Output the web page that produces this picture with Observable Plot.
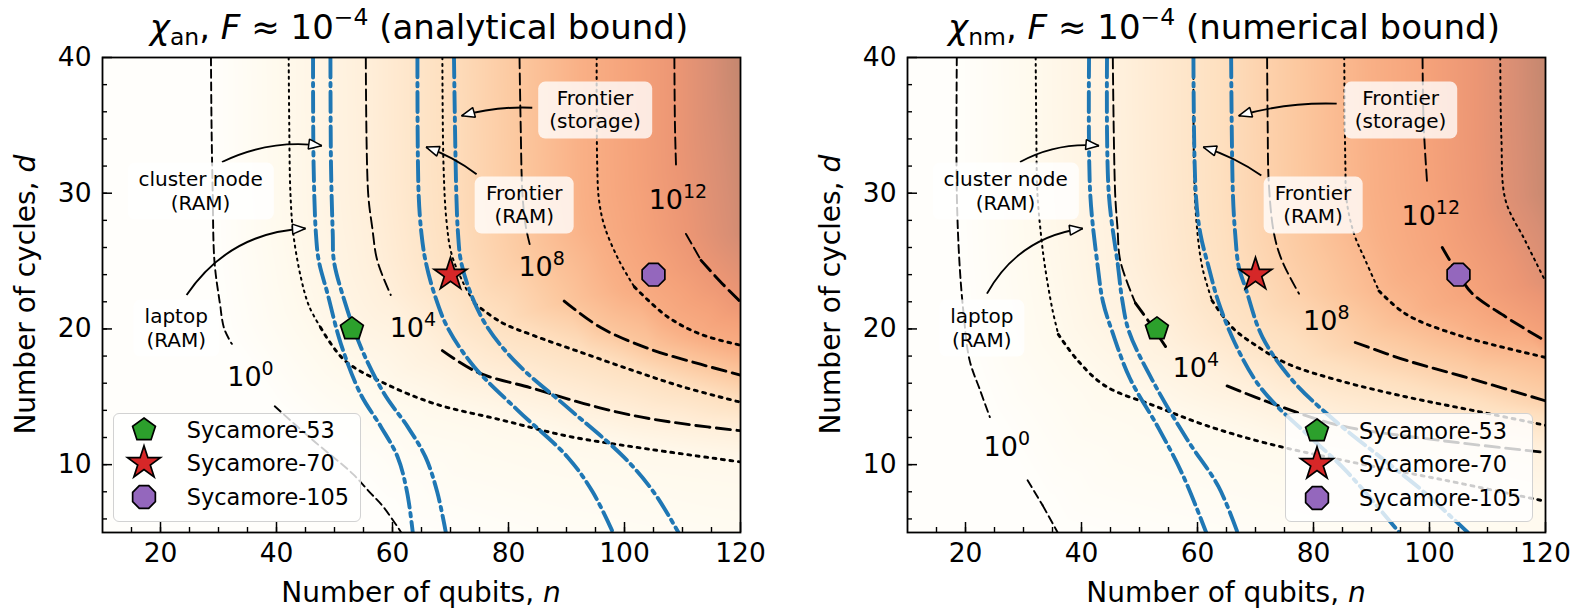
<!DOCTYPE html>
<html>
<head>
<meta charset="utf-8">
<script src="https://cdn.jsdelivr.net/npm/d3@7"></script>
<script src="https://cdn.jsdelivr.net/npm/@observablehq/plot@0.6"></script>
<style>
html, body { margin: 0; padding: 0; background: #fff; }
#root { position: relative; width: 1578px; height: 613px; overflow: hidden; font-family: "DejaVu Sans", sans-serif; color: #000; }
.panel { position: absolute; top: 0; }
.note { position: absolute; transform: translate(-50%, -50%); background: rgba(255,255,255,0.78); border-radius: 7px;
        padding: 5px 11px; font-size: 20px; line-height: 1.17; text-align: center; white-space: nowrap; }
.legend { position: absolute; box-sizing: border-box; width: 248px; height: 109px; border: 1.5px solid #d2d2d2;
          border-radius: 6px; background: rgba(255,255,255,0.8); }
.legend svg { position: absolute; overflow: visible; }
.legend .lab { position: absolute; font-size: 22.4px; line-height: 30px; white-space: nowrap; }
#overlay { position: absolute; left: 0; top: 0; pointer-events: none; }
</style>
</head>
<body>
<div id="root"></div>
<script>
// ---------------- data ----------------
const xTicks = [20, 40, 60, 80, 100, 120];
const xMinor = [15, 20, 25, 30, 35, 40, 45, 50, 55, 60, 65, 70, 75, 80, 85, 90, 95, 100, 105, 110, 115];
const yTicks = [10, 20, 30, 40];
const yMinor = [6, 8, 10, 12, 14, 16, 18, 20, 22, 24, 26, 28, 30, 32, 34, 36, 38];

const deviceNames = ["Sycamore-53", "Sycamore-70", "Sycamore-105"];
const deviceQubits = [53, 70, 105];
const deviceCycles = [20, 24, 24];

// analytical bound: contour lines of chi (points [n, d]; null = label gap)
const anC0 = [[28.7,40],[28.8,35],[29,30],[29.3,25],[30.2,22],[31,20],[32.3,18.9],null,[39.7,14.3],[46,11.9],[53.2,9.3],[56,8],[58.4,6.9],[61.5,5]];
const anC2 = [[42.1,40],[42.2,35],[42.4,30],[42.9,27],[44.2,23.8],[45.6,21.7],[47.6,20.1],[51.7,17.7],[58.6,16],[67.2,14.5],[78.7,13.3],[90.2,12.1],[101.7,11.3],[120,10.2]];
const anC4 = [[55.4,40],[55.8,30],[56.5,27.5],[57.4,25],[59.7,22.5],null,[68.6,18.4],[74.7,16.8],[84.4,15.6],[93,14.5],[101.7,13.6],[110.3,13],[120,12.5]];
const anC6 = [[68.6,40],[68.8,32],[69.3,28],[70.2,25.5],[72.3,23.3],[74.1,21.9],[78.7,20.5],[84.4,19.5],[93,18.2],[101.7,16.9],[110.3,15.7],[120,14.6]];
const anC8 = [[81.9,40],[82.1,35],[82.4,30],[83,27.5],[83.8,26],null,[89.6,22.05],[95.9,20.1],[104.5,18.5],[113.1,17.4],[120,16.6]];
const anC10 = [[95.2,40],[95.3,32],[95.6,29.5],[96.6,27.5],[99.1,25],[101.7,23.1],[107.4,20.9],[113.2,19.6],[120,18.8]];
const anC12 = [[108.6,40],[108.7,35],[108.9,31.8],null,[110.6,27],[113.2,25.05],[116.5,23.5],[120,22]];
const anCorners = [[120,40,13.7],[120,27,13.2],[10,40,-2.8],[10,25,-2.9],[10,15,-4],[10,5,-8],[20,5,-5.5],[40,5,-2],[90,5,0.7],[120,5,1.2]];
// memory limits (blue): laptop, cluster node, Frontier RAM, Frontier storage
const anB1 = [[46.3,40],[46.4,32],[46.8,27],[47.3,25],[48.8,22.6],[51.1,18.9],[54.5,15.2],[58,12.8],[60.9,10.55],[62.5,8],[63.5,5]];
const anB2 = [[49.3,40],[49.4,32],[49.7,27],[49.9,25],[51.7,22.1],[54.5,18.7],[58.6,15.2],[62.6,12.8],[65.7,10.55],[67.7,8],[69.2,5]];
const anB3 = [[64.3,40],[64.5,30],[65,27],[65.7,25],[67.2,22.6],[69.5,20.1],[74.1,17.2],[81.6,14],[90.2,10.55],[94.5,8],[98,5]];
const anB4 = [[70.6,40],[71,30],[71.3,27],[71.8,25],[73.5,22.6],[76.4,20.1],[81.6,17.4],[90.2,14.2],[99.9,10.55],[105,8],[109.3,5]];
const anLabelExp = ["0", "4", "8", "12"];
const anLabelN = [35.6, 63.6, 85.8, 109.3];
const anLabelD = [16.6, 20.2, 24.7, 29.6];
const anNoteText = [["cluster node", "(RAM)"], ["laptop", "(RAM)"], ["Frontier", "(RAM)"], ["Frontier", "(storage)"]];
const anNoteN = [27, 22.8, 82.8, 95];
const anNoteD = [30.1, 20, 29.1, 36.1];
const anArrowFrom = [[30.6,32.3],[24.5,22.5],[74.5,31.4],[84.1,36.3]];
const anArrowTo = [[47.8,33.5],[45,27.4],[65.8,33.4],[71.9,35.7]];

// numerical bound
const nmC0 = [[18.5,40],[18.5,30],[19,24.6],[19.7,21],[20.7,17.7],[22.5,15.5],[24.2,13.5],null,[30.7,8.85],[33.3,7],[35.9,5]];
const nmC2 = [[32.1,40],[32.2,35],[32.4,30],[33,27],[33.7,24.6],[35,21.4],[36,19.6],[39.3,17.7],[44.1,15.8],[52.8,14.3],[61.4,12.9],[71.7,11.6],[85.3,10.3],[102.7,8.85],[120,7.3]];
const nmC4 = [[45.4,40],[45.8,30],[46.2,27.5],[46.7,25],[49.3,21.9],[51.5,20.6],[54.5,18.7],null,[65.1,15.8],[72.9,14.5],[84.4,12.9],[101.6,11.8],[120,10.9]];
const nmC6 = [[59.3,40],[59.4,32],[59.8,28],[60.8,24.6],[62.5,22.1],[66,20.1],[70,18.8],[75.7,17.4],[84.4,16.2],[95.9,15],[107.4,14],[120,12.9]];
const nmC8 = [[72,40],[72.1,35],[72.3,30.7],[73.2,27],[74.6,25],[77.5,22.6],null,[87.2,19],[95.9,17.7],[107.4,16.3],[120,14.7]];
const nmC10 = [[85.3,40],[85.5,32],[85.7,29.5],[87,27],[89,25],[91.3,22.8],[95.9,21.1],[104.5,19.6],[120,17.9]];
const nmC12 = [[98.8,40],[99,35],[99.6,30.7],null,[102.2,26],[105,24],[107.4,22.6],[113.1,20.9],[120,19.1]];
const nmC14 = [[112.2,40],[112.4,34],[113.1,29.5],[116.5,26.5],[120,23.5]];
const nmCorners = [[120,40,15.2],[120,30,15],[10,40,-1.3],[10,25,-1.5],[10,15,-2.5],[10,5,-6],[20,5,-3],[80,5,0.9],[120,5,1.6]];
const nmB1 = [[41.3,40],[41.5,30],[42.8,24.6],[43.7,22],[45.3,19.8],[48.3,16.4],[53.4,12.6],[57.5,9.2],[61.5,5]];
const nmB2 = [[44.4,40],[44.7,30],[46.3,24.6],[47,22.2],[48.2,19.8],[52.5,16],[58.3,11.8],[63.6,8.4],[66.9,5]];
const nmB3 = [[59.3,40],[59.7,30],[60.5,27],[61.9,24.6],[63.6,22],[66.4,19],[70,16.2],[73.5,14.4],[79.5,12],[85.5,9.6],[94.8,5]];
const nmB4 = [[65.8,40],[66.1,30],[66.5,27],[67.1,24.6],[68.3,23],[71.2,19.4],[76.4,16.2],[83.8,13.2],[92,10.4],[99,8],[106.6,5]];
const nmLabelExp = ["0", "4", "8", "12"];
const nmLabelN = [27.2, 59.8, 82.3, 100.3];
const nmLabelD = [11.4, 17.2, 20.7, 28.4];
const nmNoteText = [["cluster node", "(RAM)"], ["laptop", "(RAM)"], ["Frontier", "(RAM)"], ["Frontier", "(storage)"]];
const nmNoteN = [27, 22.9, 80, 95.1];
const nmNoteD = [30.1, 20, 29.1, 36.1];
const nmArrowFrom = [[29.4,32.3],[23.7,22.6],[71,31.3],[84,36.6]];
const nmArrowTo = [[43,33.5],[40.2,27.4],[61,33.4],[67.1,35.7]];

// ---------------- styles ----------------
const W = 790, H = 613, MT = 57, MB = 81;
const plotW = 638, plotH = H - MT - MB;
const pxPerN = plotW / 110, pxPerD = plotH / 35;
const arrowBend = [0.15, 0.25, -0.08, -0.08];
const lineStyles = {
  thinDash: {thin: {stroke: "#000", strokeWidth: 1.9, strokeDasharray: "8,4.5"}, bold: {stroke: "#000", strokeWidth: 1.9, strokeDasharray: "8,4.5"}},
  dash: {thin: {stroke: "#000", strokeWidth: 1.9, strokeDasharray: "11,5"}, bold: {stroke: "#000", strokeWidth: 2.9, strokeDasharray: "14,6.5"}},
  dot: {thin: {stroke: "#000", strokeWidth: 2.0, strokeDasharray: "2,4.5"}, bold: {stroke: "#000", strokeWidth: 2.9, strokeDasharray: "2.9,5.6"}}
};
const blueStyle = {stroke: "#1f77b4", strokeWidth: 3.9, strokeDasharray: "20,5.5,3.5,5.5"};
const bgStops = [0, 0.12, 0.28, 0.44, 0.58, 0.70, 0.80, 0.88, 0.95, 1];
const bgColors = ["#fffefb", "#fffaee", "#fff0dc", "#fee0c0", "#fcc89f", "#f9b086", "#f5a27a", "#ec9674", "#d88e74", "#c4876f"];
const deviceFill = ["#2ca02c", "#d62728", "#9467bd"];
const deviceR = [12, 17.3, 12.3];

// marker shapes
function polygonSymbol(k, rot) {
  return {draw(ctx, size) {
    const R = Math.sqrt(size / Math.PI);
    for (let i = 0; i < k; i++) {
      const a = rot + 2 * Math.PI * i / k, x = R * Math.sin(a), y = -R * Math.cos(a);
      i ? ctx.lineTo(x, y) : ctx.moveTo(x, y);
    }
    ctx.closePath();
  }};
}
const starSymbol = {draw(ctx, size) {
  const R = Math.sqrt(size / Math.PI), r0 = R * 0.382;
  for (let i = 0; i < 10; i++) {
    const a = Math.PI * i / 5, rr = i % 2 ? r0 : R, x = rr * Math.sin(a), y = -rr * Math.cos(a);
    i ? ctx.lineTo(x, y) : ctx.moveTo(x, y);
  }
  ctx.closePath();
}};
const deviceSymbols = [polygonSymbol(5, 0), starSymbol, polygonSymbol(8, Math.PI / 8)];

function arcCurve(rad) {
  return function(context) {
    let pts = [];
    return {
      areaStart() {}, areaEnd() {},
      lineStart() { pts = []; },
      point(x, y) { pts.push([+x, +y]); },
      lineEnd() {
        if (pts.length < 2) return;
        const [x0, y0] = pts[0], [x1, y1] = pts[pts.length - 1];
        const dx = x1 - x0, dy = y1 - y0;
        context.moveTo(x0, y0);
        context.quadraticCurveTo((x0 + x1) / 2 + rad * dy, (y0 + y1) / 2 - rad * dx, x1, y1);
      }
    };
  };
}
function headMarker(color, context) {
  const doc = (context && context.document) || document;
  const ns = "http://www.w3.org/2000/svg";
  const m = doc.createElementNS(ns, "marker");
  m.setAttribute("viewBox", "-16 -8 18 16");
  m.setAttribute("markerWidth", 18);
  m.setAttribute("markerHeight", 16);
  m.setAttribute("markerUnits", "userSpaceOnUse");
  m.setAttribute("orient", "auto");
  m.setAttribute("refX", 0);
  m.setAttribute("refY", 0);
  m.setAttribute("overflow", "visible");
  const p = doc.createElementNS(ns, "path");
  p.setAttribute("d", "M0,0L-13,-5L-13,5Z");
  p.setAttribute("fill", "white");
  p.setAttribute("stroke", "black");
  p.setAttribute("stroke-width", "1.5");
  m.appendChild(p);
  return m;
}

const rows = (pts) => pts.map((p) => p ? {n: p[0], d: p[1]} : {n: NaN, d: NaN});
// split a polyline into steep (thin-looking) and shallow (bold-looking) runs
function runs(pts) {
  const out = [];
  let cur = null;
  for (let i = 0; i + 1 < pts.length; i++) {
    const a = pts[i], b = pts[i + 1];
    if (!a || !b) { cur = null; continue; }
    const steep = Math.abs((b[1] - a[1]) * pxPerD) > 1.7 * Math.abs((b[0] - a[0]) * pxPerN);
    if (!cur || cur.steep !== steep) { cur = {steep, pts: [a]}; out.push(cur); }
    cur.pts.push(b);
  }
  return out;
}

function buildPanel(cfg) {
  const samples = [];
  for (const c of cfg.contours) for (const p of c.pts) if (p) samples.push({n: p[0], d: p[1], v: c.level});
  for (const e of cfg.corners) samples.push({n: e[0], d: e[1], v: e[2]});
  const vmax = d3.max(cfg.corners, (e) => e[2]);
  const devices = deviceNames.map((name, i) => ({name, n: deviceQubits[i], d: deviceCycles[i]}));
  const contourMarks = [];
  for (const c of cfg.contours) {
    for (const r of runs(c.pts)) {
      const st = lineStyles[c.style][r.steep ? "thin" : "bold"];
      contourMarks.push(Plot.line(rows(r.pts), {x: "n", y: "d", curve: "catmull-rom", clip: true, ...st}));
    }
  }
  const marks = [
    Plot.raster(samples, {x: "n", y: "d", fill: "v", interpolate: "barycentric"}),
    ...contourMarks,
    ...cfg.blues.map((b) => Plot.line(rows(b), {x: "n", y: "d", curve: "catmull-rom", clip: true, ...blueStyle})),
    ...cfg.arrowFrom.map((a, i) => Plot.link([{n1: a[0], d1: a[1], n2: cfg.arrowTo[i][0], d2: cfg.arrowTo[i][1]}],
      {x1: "n1", y1: "d1", x2: "n2", y2: "d2", curve: arcCurve(arrowBend[i]), stroke: "#000", strokeWidth: 1.9, markerEnd: headMarker})),
    ...devices.map((dv, i) => Plot.dot([dv], {x: "n", y: "d", symbol: deviceSymbols[i], r: deviceR[i], fill: deviceFill[i], stroke: "#000", strokeWidth: 1.7})),
    Plot.frame({stroke: "#000", strokeWidth: 1.8}),
    Plot.tickX(xMinor, {x: (v) => v, insetTop: plotH - 5, stroke: "#000", strokeWidth: 1.4}),
    Plot.tickX(xTicks, {x: (v) => v, insetTop: plotH - 10, stroke: "#000", strokeWidth: 1.5}),
    Plot.tickY(yMinor, {y: (v) => v, insetRight: plotW - 5, stroke: "#000", strokeWidth: 1.4}),
    Plot.tickY(yTicks, {y: (v) => v, insetRight: plotW - 10, stroke: "#000", strokeWidth: 1.5}),
    Plot.axisX({ticks: xTicks, tickSize: 0, tickPadding: 11, label: null, fontSize: 26.5, tickFormat: (v) => String(v)}),
    Plot.axisY({ticks: yTicks, tickSize: 0, tickPadding: 11, label: null, fontSize: 26.5, tickFormat: (v) => String(v)})
  ];
  return Plot.plot({
    width: W, height: H,
    marginLeft: cfg.marginLeft, marginRight: cfg.marginRight, marginTop: MT, marginBottom: MB,
    x: {domain: [10, 120]},
    y: {domain: [5, 40]},
    color: {type: "linear", domain: bgStops.map((s) => s * vmax), range: bgColors, clamp: true},
    style: {fontFamily: "DejaVu Sans", fontSize: "26.5px", color: "#000", background: "transparent", overflow: "visible", maxWidth: "none"},
    marks
  });
}

const root = document.getElementById("root");
const panels = [
  {left: 0, marginLeft: 102, marginRight: 50,
   contours: [{level: 0, style: "thinDash", pts: anC0}, {level: 2, style: "dot", pts: anC2}, {level: 4, style: "dash", pts: anC4},
              {level: 6, style: "dot", pts: anC6}, {level: 8, style: "dash", pts: anC8}, {level: 10, style: "dot", pts: anC10},
              {level: 12, style: "dash", pts: anC12}],
   corners: anCorners, blues: [anB1, anB2, anB3, anB4],
   labelExp: anLabelExp, labelN: anLabelN, labelD: anLabelD,
   noteText: anNoteText, noteN: anNoteN, noteD: anNoteD,
   arrowFrom: anArrowFrom, arrowTo: anArrowTo, legendLeft: 112.7, legendTop: 412.7},
  {left: 788, marginLeft: 119, marginRight: 33,
   contours: [{level: 0, style: "thinDash", pts: nmC0}, {level: 2, style: "dot", pts: nmC2}, {level: 4, style: "dash", pts: nmC4},
              {level: 6, style: "dot", pts: nmC6}, {level: 8, style: "dash", pts: nmC8}, {level: 10, style: "dot", pts: nmC10},
              {level: 12, style: "dash", pts: nmC12}, {level: 14, style: "dot", pts: nmC14}],
   corners: nmCorners, blues: [nmB1, nmB2, nmB3, nmB4],
   labelExp: nmLabelExp, labelN: nmLabelN, labelD: nmLabelD,
   noteText: nmNoteText, noteN: nmNoteN, noteD: nmNoteD,
   arrowFrom: nmArrowFrom, arrowTo: nmArrowTo, legendLeft: 1285, legendTop: 413}
];

const labelPositions = [];
for (const cfg of panels) {
  const wrap = document.createElement("div");
  wrap.className = "panel";
  wrap.style.left = cfg.left + "px";
  const plot = buildPanel(cfg);
  wrap.appendChild(plot);
  root.appendChild(wrap);
  const sx = plot.scale("x"), sy = plot.scale("y");
  cfg.labelExp.forEach((e, i) => labelPositions.push({e, x: cfg.left + sx.apply(cfg.labelN[i]), y: sy.apply(cfg.labelD[i])}));
  cfg.noteText.forEach((lines, i) => {
    const div = document.createElement("div");
    div.className = "note";
    div.innerHTML = lines.join("<br>");
    div.style.left = (cfg.left + sx.apply(cfg.noteN[i])) + "px";
    div.style.top = sy.apply(cfg.noteD[i]) + "px";
    root.appendChild(div);
  });
  // legend
  const lg = document.createElement("div");
  lg.className = "legend";
  lg.style.left = cfg.legendLeft + "px";
  lg.style.top = cfg.legendTop + "px";
  const rowY = [16.5, 49.5, 83.5];
  deviceNames.forEach((name, i) => {
    const svg = d3.create("svg").attr("width", 40).attr("height", 40)
      .style("left", (30.5 - 20) + "px").style("top", (rowY[i] - 20) + "px");
    const p = d3.path();
    deviceSymbols[i].draw(p, Math.PI * deviceR[i] * deviceR[i]);
    svg.append("path").attr("d", p.toString()).attr("transform", "translate(20,20)")
      .attr("fill", deviceFill[i]).attr("stroke", "#000").attr("stroke-width", 1.7);
    lg.appendChild(svg.node());
    const lab = document.createElement("div");
    lab.className = "lab";
    lab.textContent = name;
    lab.style.left = "73px";
    lab.style.top = (rowY[i] - 15) + "px";
    lg.appendChild(lab);
  });
  root.appendChild(lg);
}

// titles, axis labels, contour labels
const ov = d3.select(root).append("svg").attr("id", "overlay").attr("width", 1578).attr("height", 613)
  .style("font-family", "DejaVu Sans").style("white-space", "pre");
for (const lp of labelPositions) {
  const tx = ov.append("text").attr("x", lp.x).attr("y", lp.y + 11).attr("text-anchor", "middle").attr("font-size", 27);
  tx.append("tspan").text("10");
  tx.append("tspan").attr("font-size", 19).attr("dy", -11).text(lp.e);
}
const titles = [{x: 419, sub: "an", rest: " (analytical bound)"}, {x: 1224, sub: "nm", rest: " (numerical bound)"}];
for (const t of titles) {
  const tx = ov.append("text").attr("x", t.x).attr("y", 39).attr("text-anchor", "middle").attr("font-size", 34);
  tx.append("tspan").attr("font-style", "italic").text("χ");
  tx.append("tspan").attr("font-size", 23.5).attr("dy", 6).text(t.sub);
  tx.append("tspan").attr("dy", -6).text(", ");
  tx.append("tspan").attr("font-style", "italic").text("F");
  tx.append("tspan").text(" ≈ 10");
  tx.append("tspan").attr("font-size", 23.5).attr("dy", -14).text("−4");
  tx.append("tspan").attr("dy", 14).text(t.rest);
}
for (const cx of [421, 1226]) {
  const tx = ov.append("text").attr("x", cx).attr("y", 602).attr("text-anchor", "middle").attr("font-size", 28);
  tx.append("tspan").text("Number of qubits, ");
  tx.append("tspan").attr("font-style", "italic").text("n");
}
for (const bx of [34.6, 840]) {
  const tx = ov.append("text").attr("transform", `translate(${bx},294.7) rotate(-90)`).attr("text-anchor", "middle").attr("font-size", 28);
  tx.append("tspan").text("Number of cycles, ");
  tx.append("tspan").attr("font-style", "italic").text("d");
}
</script>
</body>
</html>
